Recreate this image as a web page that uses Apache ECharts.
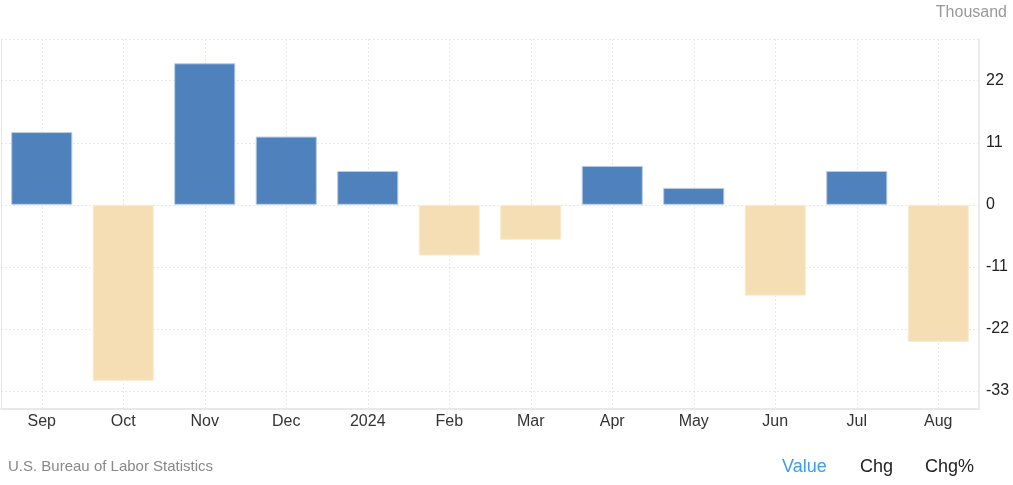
<!DOCTYPE html>
<html>
<head>
<meta charset="utf-8">
<script src="https://cdn.jsdelivr.net/npm/echarts@6/dist/echarts.min.js"></script>
<style>
html,body{margin:0;padding:0;background:#fff;}
#chart{width:1013px;height:485px;}
</style>
</head>
<body>
<div id="chart"></div>
<script>
const categories = ['Sep','Oct','Nov','Dec','2024','Feb','Mar','Apr','May','Jun','Jul','Aug'];
const values = [12.9, -31.2, 25.1, 12.1, 6.0, -9.0, -6.2, 6.9, 3.0, -16.1, 6.0, -24.3];
const yTicks = [-33, -22, -11, 0, 11, 22];
const yMin = -36.2;
const yMax = 29.4;

const FONT = '"Liberation Sans", Arial, sans-serif';
const chart = echarts.init(document.getElementById('chart'), null, {renderer: 'canvas'});

chart.setOption({
  animation: false,
  textStyle: {fontFamily: FONT},
  grid: {left: 1, right: 34, top: 39, bottom: 76, containLabel: false},
  xAxis: {
    type: 'category',
    data: categories,
    boundaryGap: true,
    axisLine: {show: true, onZero: false, lineStyle: {color: '#e8e8e8', width: 2}},
    axisTick: {show: false, alignWithLabel: true},
    axisLabel: {color: '#333', fontSize: 16, margin: 5, fontFamily: FONT},
    splitLine: {show: true, alignWithLabel: true, lineStyle: {color: '#e8e8e8', type: [2, 2], width: 1}}
  },
  yAxis: [{
    type: 'value',
    position: 'right',
    min: yMin,
    max: yMax,
    axisLine: {show: true, lineStyle: {color: '#ebebeb', width: 2}},
    axisTick: {show: false, customValues: yTicks.concat([yMax])},
    axisLabel: {color: '#222', fontSize: 16, margin: 7, fontFamily: FONT, customValues: yTicks},
    splitLine: {show: true, lineStyle: {color: '#e8e8e8', type: [2, 2], width: 1}}
  }, {
    type: 'value',
    position: 'left',
    min: yMin,
    max: yMax,
    axisLine: {show: true, onZero: false, lineStyle: {color: '#e6e6e6', width: 1}},
    axisTick: {show: false},
    axisLabel: {show: false},
    splitLine: {show: false}
  }],
  series: [{
    type: 'bar',
    yAxisIndex: 0,
    barWidth: '75%',
    data: values.map(v => ({
      value: v,
      itemStyle: v >= 0
        ? {color: '#4f81bd', borderColor: '#b9cde6', borderWidth: 1}
        : {color: '#f5deb3', borderColor: '#faecd3', borderWidth: 1}
    }))
  }],
  graphic: [
    {type: 'text', right: 6, top: 5, style: {text: 'Thousand', fill: '#999', font: '16px ' + FONT}},
    {type: 'text', left: 8, top: 459, style: {text: 'U.S. Bureau of Labor Statistics', fill: '#888', font: '15px ' + FONT}},
    {type: 'text', left: 782, top: 458, style: {text: 'Value', fill: '#3d9bf0', font: '18px ' + FONT}},
    {type: 'text', left: 860, top: 458, style: {text: 'Chg', fill: '#222', font: '18px ' + FONT}},
    {type: 'text', left: 925, top: 458, style: {text: 'Chg%', fill: '#222', font: '18px ' + FONT}}
  ]
});
</script>
</body>
</html>
